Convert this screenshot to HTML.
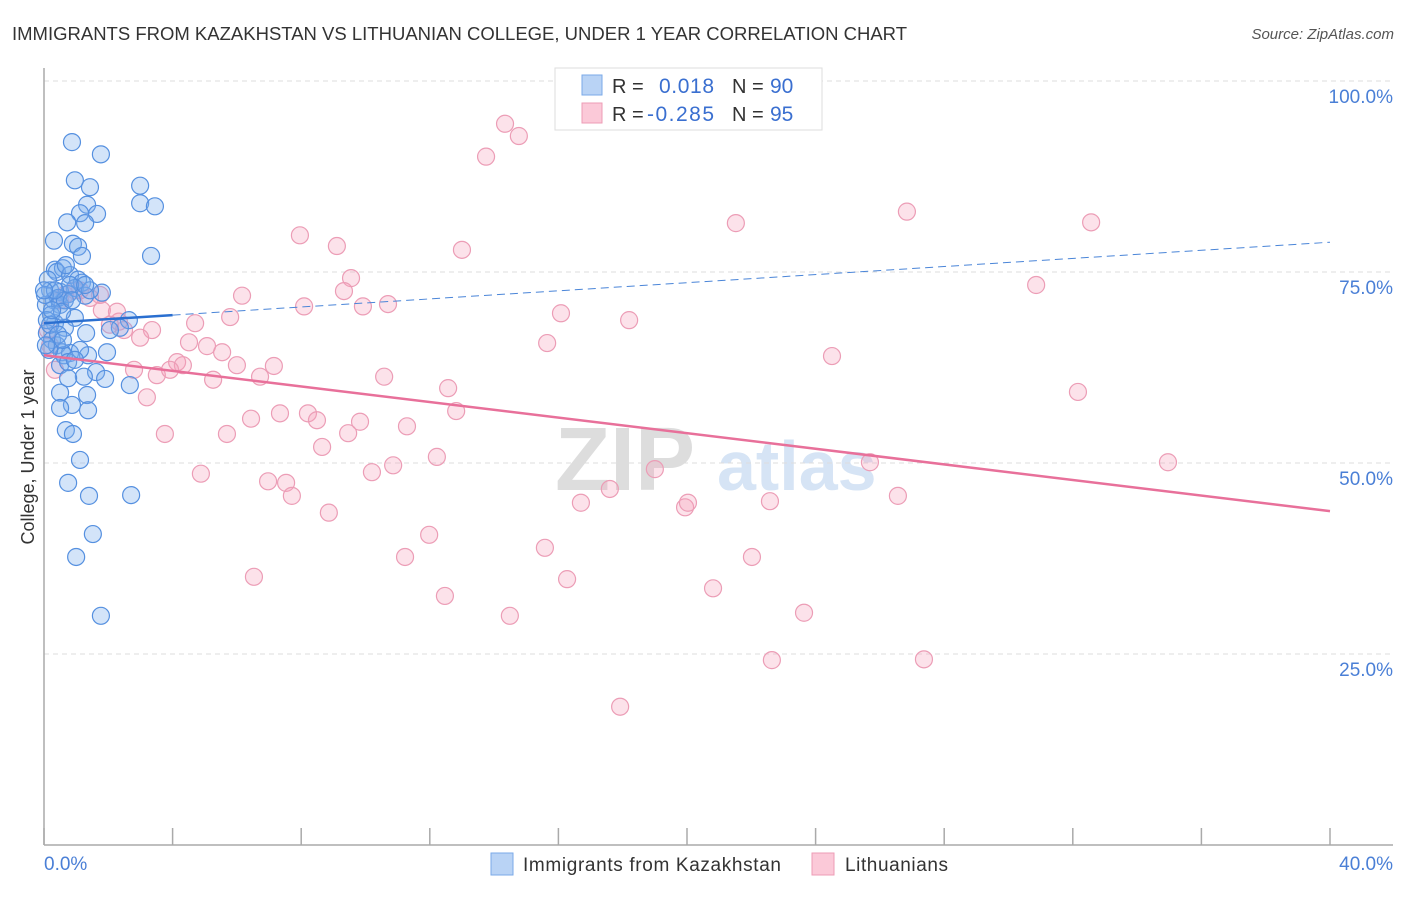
<!DOCTYPE html>
<html><head><meta charset="utf-8"><style>
body{margin:0;background:#fff;font-family:"Liberation Sans",sans-serif}
svg text{font-family:"Liberation Sans",sans-serif}
</style></head><body>
<svg id="chart" width="1406" height="892" viewBox="0 0 1406 892" xmlns="http://www.w3.org/2000/svg">
<text x="12" y="40" font-size="18" fill="#333" textLength="895" lengthAdjust="spacingAndGlyphs">IMMIGRANTS FROM KAZAKHSTAN VS LITHUANIAN COLLEGE, UNDER 1 YEAR CORRELATION CHART</text>
<text x="1394" y="39" font-size="15" fill="#555" text-anchor="end" font-style="italic">Source: ZipAtlas.com</text>
<g>
<text x="555" y="490" font-size="90" fill="#ddd" font-family="Liberation Serif" font-weight="bold">ZIP</text>
<text x="717" y="490" font-size="70" fill="#d6e4f5" font-weight="bold">atlas</text>
</g>
<g id="grid"></g>
<g id="axes"></g>
<g id="marks"></g>
<text transform="translate(34,457) rotate(-90)" font-size="18" fill="#333" text-anchor="middle">College, Under 1 year</text>
<g>
<rect x="555" y="68" width="267" height="62" fill="#fff" stroke="#ddd"/>
<rect x="582" y="75" width="20" height="20" fill="#b9d3f5" stroke="#7aaae8"/>
<text x="612" y="93" font-size="20" fill="#333">R =</text><text x="659" y="93" font-size="21" fill="#3a6fd0" textLength="55">0.018</text>
<text x="732" y="93" font-size="20" fill="#333">N =</text><text x="770" y="93" font-size="21" fill="#3a6fd0">90</text>
<rect x="582" y="103" width="20" height="20" fill="#fbc9d8" stroke="#ee9cb6"/>
<text x="612" y="121" font-size="20" fill="#333">R =</text><text x="647" y="121" font-size="21" fill="#3a6fd0" textLength="67">-0.285</text>
<text x="732" y="121" font-size="20" fill="#333">N =</text><text x="770" y="121" font-size="21" fill="#3a6fd0">95</text>
</g>
<g>
<rect x="491" y="853" width="22" height="22" fill="#b9d3f5" stroke="#7aaae8"/>
<text x="523" y="871" font-size="19" fill="#333" textLength="258">Immigrants from Kazakhstan</text>
<rect x="812" y="853" width="22" height="22" fill="#fbc9d8" stroke="#ee9cb6"/>
<text x="845" y="871" font-size="19" fill="#333" textLength="103">Lithuanians</text>
</g>
</svg>
<script>
const blueX=[0.87,1.77,0.96,1.43,2.99,1.34,2.99,3.45,1.65,1.12,0.72,1.28,0.31,0.90,1.06,1.18,3.33,0.34,0.59,0.40,0.81,1.06,1.18,0.96,0.19,0.50,0.75,1.80,1.28,0.31,0.06,0.50,0.22,0.96,0.34,2.64,0.65,0.09,1.31,2.36,0.25,0.40,0.56,0.81,1.96,0.62,1.37,0.50,0.75,1.62,1.24,0.75,1.90,2.67,0.50,1.34,0.87,0.50,1.37,0.68,0.90,1.12,0.75,1.40,2.71,1.52,1.00,1.77,0.09,0.12,0.16,0.44,0.65,0.81,0.56,0.03,0.19,0.87,0.68,0.44,1.12,0.06,1.43,0.34,0.96,0.59,2.05,0.25,0.00,1.28];
const blueY=[92.0,90.4,87.0,86.1,86.3,83.8,84.0,83.6,82.6,82.7,81.5,81.4,79.1,78.7,78.3,77.1,77.1,75.3,75.5,75.0,74.6,74.0,73.6,72.9,72.6,72.4,72.1,72.3,71.9,71.3,70.7,70.7,69.4,69.0,68.3,68.7,67.7,67.0,67.0,67.7,66.1,65.4,64.5,64.4,64.5,64.1,64.1,62.8,63.2,61.9,61.3,61.1,61.0,60.2,59.2,58.9,57.6,57.2,56.9,54.3,53.8,50.4,47.4,45.7,45.8,40.7,37.7,30.0,68.7,74.0,64.8,71.6,71.3,73.3,69.8,72.0,68.1,71.3,75.9,66.8,64.8,65.4,72.6,72.6,63.5,66.1,67.4,70.0,72.6,73.3];
const pinkX=[14.34,14.77,13.75,21.52,26.84,32.57,7.96,9.11,13.00,30.86,9.55,9.33,6.16,8.09,5.79,4.70,9.92,10.70,16.08,18.20,15.65,24.51,4.51,5.07,5.54,2.33,3.36,2.99,1.80,2.27,0.50,1.12,1.43,2.05,2.49,4.14,4.32,3.51,3.92,2.80,3.20,5.26,6.00,6.72,7.15,10.58,12.57,32.16,6.44,7.34,8.21,8.49,9.83,11.29,12.82,3.76,5.69,9.46,8.65,12.22,10.86,10.20,19.00,25.69,34.96,4.88,6.97,7.53,7.71,17.60,16.70,19.94,20.03,22.58,26.56,8.86,11.98,15.58,22.02,11.23,6.53,16.27,20.81,12.47,14.49,23.64,22.64,27.37,17.92,0.19,0.34,0.12,0.65,0.96,1.74];
const pinkY=[94.4,92.8,90.1,81.4,82.9,81.5,79.8,78.4,77.9,73.3,74.2,72.5,71.9,70.5,69.1,68.3,70.5,70.8,69.6,68.7,65.7,64.0,65.8,65.3,64.5,68.5,67.4,66.4,70.0,69.8,71.3,72.6,71.6,68.1,67.4,63.2,62.8,61.5,62.2,62.2,58.6,60.9,62.8,61.3,62.7,61.3,59.8,59.3,55.8,56.5,56.5,55.6,55.4,54.8,56.8,53.8,53.8,53.9,52.1,50.8,49.7,48.8,49.2,50.1,50.1,48.6,47.6,47.4,45.7,46.6,44.8,44.2,44.8,45.0,45.7,43.5,40.6,38.9,37.7,37.7,35.1,34.8,33.6,32.6,30.0,30.4,24.2,24.3,18.1,65.4,62.2,67.4,72.0,72.6,72.0];
const blueTrend=[68.3,78.9];
const pinkTrend=[64.1,43.7];
const yTicks=[100,75,50,25];
const yTickLabels=["100.0%","75.0%","50.0%","25.0%"];
const xTicks=[0,4,8,12,16,20,24,28,32,36,40];
const xLabels=["0.0%","40.0%"];
const X0=44,X1=1330,Y0=845,Y1=81;
const sx=v=>X0+(v/40)*(X1-X0);
const sy=v=>Y0-(v/100)*(Y0-Y1);
const NS="http://www.w3.org/2000/svg";
function mk(tag,attrs,parent){const e=document.createElementNS(NS,tag);for(const k in attrs)e.setAttribute(k,attrs[k]);parent.appendChild(e);return e;}
const grid=document.getElementById('grid'),axes=document.getElementById('axes'),marks=document.getElementById('marks');
yTicks.forEach((t,i)=>{
 const l=mk('line',{x1:X0,x2:1393,y1:sy(t),y2:sy(t),stroke:'#ddd','stroke-dasharray':'5,4'},grid);
 
 
 const tx=mk('text',{x:1393,y:sy(t)+22,'font-size':19,fill:'#4a7fd6','text-anchor':'end'},axes);
 tx.textContent=yTickLabels[i];
 
 
});
const ya=mk('line',{x1:X0,x2:X0,y1:68,y2:Y0,stroke:'#aaa','stroke-width':1.5},axes);


const xa=mk('line',{x1:X0,x2:1393,y1:Y0,y2:Y0,stroke:'#aaa','stroke-width':1.5},axes);


xTicks.forEach(t=>{
 const l=mk('line',{x1:sx(t),x2:sx(t),y1:Y0,y2:Y0-17,stroke:'#aaa','stroke-width':1.5},axes);
 
 
});
const xl0=mk('text',{x:44,y:870,'font-size':19,fill:'#4a7fd6'},axes);xl0.textContent=xLabels[0];


const xl1=mk('text',{x:1393,y:870,'font-size':19,fill:'#4a7fd6','text-anchor':'end'},axes);xl1.textContent=xLabels[1];


function pts(xs,ys,fill,stroke,name){xs.forEach((x,i)=>{
 const c=mk('circle',{cx:sx(x),cy:sy(ys[i]),r:8.5,fill:fill,stroke:stroke,'stroke-width':1.2},marks);
 
 
});}
pts(pinkX,pinkY,'rgba(244,160,186,0.3)','#ec9db6','lithuanians-point');
pts(blueX,blueY,'rgba(120,172,238,0.33)','#5590e0','kazakhstan-point');
const by=x=>blueTrend[0]+(blueTrend[1]-blueTrend[0])*x/40;
const bt1=mk('line',{x1:sx(0),y1:sy(by(0)),x2:sx(4),y2:sy(by(4)),stroke:'#2a6fd0','stroke-width':2.5},marks);


const bt2=mk('line',{x1:sx(4),y1:sy(by(4)),x2:sx(40),y2:sy(by(40)),stroke:'#4a85d8','stroke-width':1,'stroke-dasharray':'8,5'},marks);


const pt=mk('line',{x1:sx(0),y1:sy(pinkTrend[0]),x2:sx(40),y2:sy(pinkTrend[1]),stroke:'#e8709a','stroke-width':2.5},marks);


</script>
</body></html>
